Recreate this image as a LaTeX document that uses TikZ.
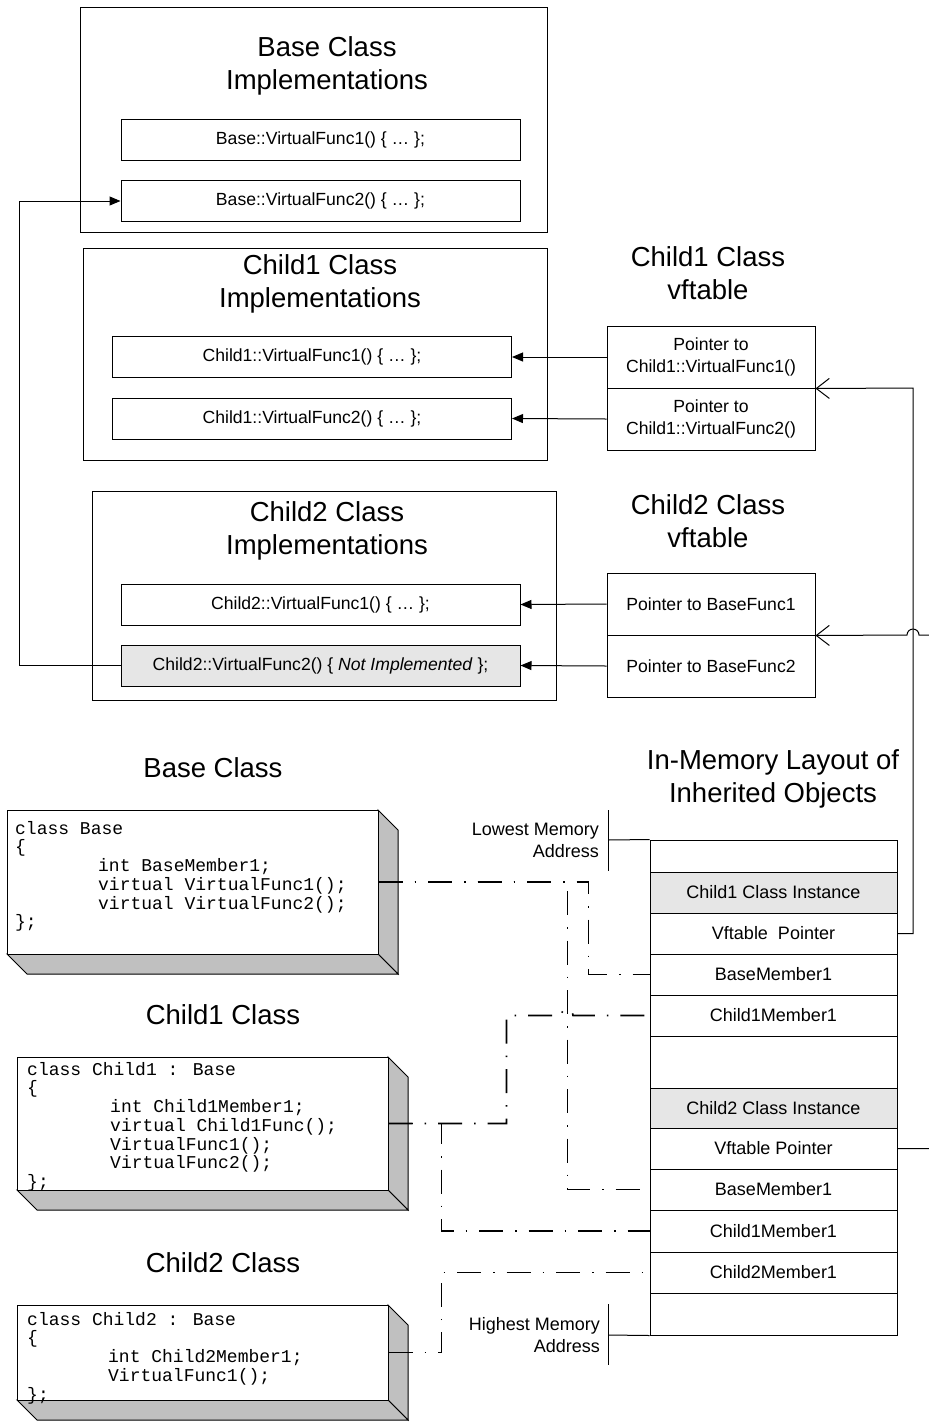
\documentclass[tikz,border=0pt]{standalone}
\usepackage{fontspec}
\setmainfont{Liberation Sans}
\newfontfamily\codefont{Liberation Mono}
\usetikzlibrary{arrows.meta}
\definecolor{lightfill}{HTML}{E6E6E6}
\definecolor{sidefill}{HTML}{C0C0C0}
\begin{document}
\begin{tikzpicture}[x=1pt,y=-1pt,
  box/.style={draw, line width=1pt, inner sep=0pt},
  implbox/.style={box, minimum width=399pt, minimum height=41pt, font=\fontsize{17.6}{21}\selectfont},
  vcell/.style={box, minimum width=208pt, minimum height=62pt, align=center, font=\fontsize{17.6}{22}\selectfont},
  mcell/.style={box, minimum width=247pt, minimum height=41pt, font=\fontsize{18}{21}\selectfont},
  titletext/.style={align=center, font=\fontsize{27.5}{33}\selectfont, inner sep=0pt},
  lbl/.style={align=right, font=\fontsize{18}{22}\selectfont, inner sep=0pt},
  codetext/.style={align=left, font=\codefont\fontsize{18}{18.7}\selectfont, inner sep=0pt, anchor=north west},
  side/.style={draw, line width=1pt, fill=sidefill},
  arr/.style={line width=1pt, -{Triangle[length=11pt,width=9pt]}},
  ptr/.style={line width=1pt, -{Straight Barb[length=13pt,width=20pt]}},
  dd/.style={line width=1.6pt, dash pattern=on 24pt off 12pt on 1.5pt off 12pt},
]
\useasboundingbox (0,0) rectangle (929,1425);

% ---------- Base class implementations
\draw[line width=1pt] (80,7) rectangle (547,232);
\node[titletext] (btitle) at (327,66) {Base Class\\Implementations};
\node[implbox] (bf1) at (320.5,140) {Base::VirtualFunc1() \{ … \};};
\node[implbox] (bf2) at (320.5,201) {Base::VirtualFunc2() \{ … \};};

% ---------- Child1 implementations
\draw[line width=1pt] (83,248) rectangle (547,460);
\node[titletext] (c1title) at (320,284) {Child1 Class\\Implementations};
\node[implbox] (c1f1) at (312,357) {Child1::VirtualFunc1() \{ … \};};
\node[implbox] (c1f2) at (312,418.5) {Child1::VirtualFunc2() \{ … \};};

% ---------- Child1 vftable
\node[titletext] (v1title) at (708,273) {Child1 Class\\vftable};
\node[vcell] (v1a) at (711,357) {Pointer to\\Child1::VirtualFunc1()};
\node[vcell] (v1b) at (711,419) {Pointer to\\Child1::VirtualFunc2()};

% ---------- Child2 implementations
\draw[line width=1pt] (92,491) rectangle (556,700);
\node[titletext] (c2title) at (327,531) {Child2 Class\\Implementations};
\node[implbox] (c2f1) at (320.5,604.5) {Child2::VirtualFunc1() \{ … \};};
\node[implbox, fill=lightfill] (c2f2) at (320.5,665.5) {Child2::VirtualFunc2() \{ \textit{Not Implemented} \};};

% ---------- Child2 vftable
\node[titletext] (v2title) at (708,521) {Child2 Class\\vftable};
\node[vcell] (v2a) at (711,604) {Pointer to BaseFunc1};
\node[vcell] (v2b) at (711,666) {Pointer to BaseFunc2};

% ---------- arrows vftable -> implementations
\draw[arr] (v1a.west) -- (c1f1.east);
\draw[arr] (v1b.west) -- (c1f2.east);
\draw[arr] (v2a.west) -- (c2f1.east);
\draw[arr] (v2b.west) -- (c2f2.east);
\draw[arr] (c2f2.west) -- ++(-101,0) |- (bf2.west);

% ---------- memory layout
\node[titletext] (mtitle) at (773,779) {In-Memory Layout of\\Inherited Objects};
\node[mcell, minimum height=32pt] (mtop) at (773.5,856) {};
\node[mcell, fill=lightfill] (c1inst) at (773.5,892.5) {Child1 Class Instance};
\node[mcell] (c1vft) at (773.5,933.5) {Vftable\ \ Pointer};
\node[mcell] (c1base) at (773.5,974.5) {BaseMember1};
\node[mcell] (c1mem) at (773.5,1015.5) {Child1Member1};
\node[mcell, minimum height=52pt] (mgap) at (773.5,1062) {};
\node[mcell, minimum height=40pt, fill=lightfill] (c2inst) at (773.5,1108) {Child2 Class Instance};
\node[mcell] (c2vft) at (773.5,1148.5) {Vftable Pointer};
\node[mcell] (c2base) at (773.5,1189.5) {BaseMember1};
\node[mcell, minimum height=42pt] (c2c1) at (773.5,1231) {Child1Member1};
\node[mcell] (c2mem) at (773.5,1272.5) {Child2Member1};
\node[mcell, minimum height=42pt] (mbot) at (773.5,1314) {};

\node[lbl, anchor=east] (lowlbl) at (599,840) {Lowest Memory\\Address};
\draw[line width=1pt] (608,810) -- (608,871);
\draw[line width=1pt] (608,840) -- (mtop.north west);
\node[lbl, anchor=east] (highlbl) at (600,1335) {Highest Memory\\Address};
\draw[line width=1pt] (608,1304) -- (608,1365);
\draw[line width=1pt] (608,1335) -- (mbot.south west);

% ---------- vftable pointers
\draw[ptr] (c1vft.east) -- (913,933.5) -- (913,388) -- (v1a.south east);
\draw[ptr] (c2vft.east) -- (945,1148.5) -- (945,635) -- (919,635)
   arc[start angle=0, end angle=180, radius=6pt] -- (v2a.south east);

% ---------- class declaration boxes
\draw[side] (378,810) -- (398,830) -- (398,974) -- (378,954) -- cycle;
\draw[side] (7,954) -- (378,954) -- (398,974) -- (27,974) -- cycle;
\node[box, fill=white, minimum width=371pt, minimum height=144pt] (basecode) at (192.5,882) {};
\node[codetext] (basetxt) at (15,821) {class Base\\\{\\\hspace*{83pt}int BaseMember1;\\\hspace*{83pt}virtual VirtualFunc1();\\\hspace*{83pt}virtual VirtualFunc2();\\\};};

\draw[side] (388,1057) -- (408,1077) -- (408,1210) -- (388,1190) -- cycle;
\draw[side] (17,1190) -- (388,1190) -- (408,1210) -- (37,1210) -- cycle;
\node[box, fill=white, minimum width=371pt, minimum height=133pt] (c1code) at (202.5,1123.5) {};
\node[codetext] (c1txt) at (27,1062) {class Child1 : Base\\\{\\\hspace*{83pt}int Child1Member1;\\\hspace*{83pt}virtual Child1Func();\\\hspace*{83pt}VirtualFunc1();\\\hspace*{83pt}VirtualFunc2();\\\};};

\draw[side] (388,1305) -- (408,1325) -- (408,1420) -- (388,1400) -- cycle;
\draw[side] (17,1400) -- (388,1400) -- (408,1420) -- (37,1420) -- cycle;
\node[box, fill=white, minimum width=371pt, minimum height=95pt] (c2code) at (202.5,1352.5) {};
\node[codetext] (c2txt) at (27,1312) {class Child2 : Base\\\{\\\hspace*{81pt}int Child2Member1;\\\hspace*{81pt}VirtualFunc1();\\\};};

\node[titletext] (basettl) at (213,768) {Base Class};
\node[titletext] (c1ttl) at (223,1015) {Child1 Class};
\node[titletext] (c2ttl) at (223,1263) {Child2 Class};

% ---------- dash-dot connectors
\draw[dd] (basecode.east) -- ++(210,0) |- (c1base.west);
\draw[dd] (basecode.east) -- ++(189,0) |- (c2base.west);
\draw[dd] (c1code.east) -- ++(118,0) |- (561,1015.5)
   arc[start angle=180, end angle=0, radius=6pt] -- (c1mem.west);
\draw[dd] (c1code.east) -- ++(53,0) |- (c2c1.west);
\draw[dd] (c2code.east) -- ++(53,0) |- (c2mem.west);
\end{tikzpicture}
\end{document}
